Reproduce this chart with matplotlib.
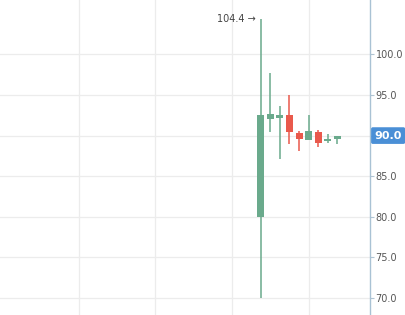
import matplotlib.pyplot as plt
from matplotlib.patches import Rectangle

# OHLC values
opens = [80.0, 92.0, 92.2, 92.5, 90.3, 89.4, 90.4, 89.3, 89.6]
highs = [104.4, 97.7, 93.6, 95.0, 90.6, 92.5, 90.7, 90.2, 90.0]
lows = [70.0, 90.4, 87.1, 89.0, 88.1, 89.4, 88.6, 89.1, 89.0]
closes = [92.5, 92.7, 92.5, 90.4, 89.6, 90.6, 89.1, 89.6, 90.0]
yticks = [70.0, 75.0, 80.0, 85.0, 90.0, 95.0, 100.0]
last_price = 90.0

up_color = '#6aaa8c'
down_color = '#e9594c'
grid_color = '#ececec'

fig = plt.figure(figsize=(4.06, 3.15), dpi=100)
ax = fig.add_axes([0, 0, 370 / 406, 1])

for i in range(len(opens)):
    o, h, l, c = opens[i], highs[i], lows[i], closes[i]
    col = up_color if c >= o else down_color
    ax.plot([i, i], [l, h], color=col, linewidth=1.1, solid_capstyle='butt', zorder=3)
    bottom = min(o, c)
    height = max(abs(c - o), 0.15)
    ax.add_patch(Rectangle((i - 0.37, bottom), 0.74, height, facecolor=col,
                           edgecolor='none', zorder=4))

ax.set_xlim(-27.2, 11.4)
ax.set_ylim(67.9, 106.7)

ax.set_xticks([-19, -11, -3, 5])
ax.set_yticks(yticks)
# the last-price tag covers the 90.0 tick label
ax.set_yticklabels(['' if v == last_price else '%.1f' % v for v in yticks])
ax.grid(True, color=grid_color, linewidth=0.9, zorder=0)

ax.yaxis.tick_right()
ax.tick_params(axis='y', direction='out', length=3, width=0.8, color='#b0c4d2',
               labelsize=7, labelcolor='#555555', pad=1)
ax.tick_params(axis='x', length=0, labelbottom=False)
for side in ['top', 'bottom', 'left']:
    ax.spines[side].set_visible(False)
ax.spines['right'].set_color('#a9c2d4')
ax.spines['right'].set_linewidth(1.0)

# max price annotation
ax.text(-0.5, highs[0], '%.1f \u2192' % highs[0], ha='right', va='center',
        fontsize=7, color='#444444')

# last price label
ax.text(1.012, last_price, '%.1f' % last_price, transform=ax.get_yaxis_transform(),
        ha='left', va='center', fontsize=8, color='white', fontweight='bold',
        bbox=dict(boxstyle='round,pad=0.3,rounding_size=0.15', facecolor='#4a8fd6',
                  edgecolor='none'), zorder=10, clip_on=False)

fig.savefig('out.png', dpi=100)
